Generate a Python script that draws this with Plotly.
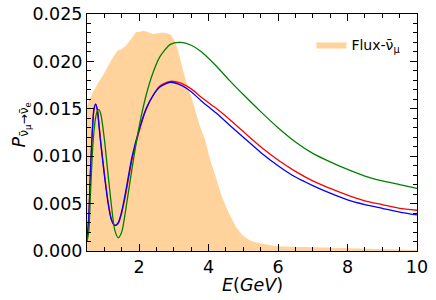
import plotly.graph_objects as go

# Energy grid for oscillation curves (GeV)
E = [0.5, 0.55, 0.6, 0.65, 0.7, 0.75, 0.8, 0.85, 0.9, 1.0, 1.1, 1.2, 1.3, 1.4, 1.5, 1.6,
     1.8, 2.0, 2.2, 2.4, 2.6, 2.9, 3.2, 3.5, 3.8, 4.2, 4.6, 5.0, 5.5, 6.0, 6.5, 7.0,
     7.5, 8.0, 8.5, 9.0, 9.5, 10.0]

P_red = [0.0012, 0.0034, 0.0083, 0.0123, 0.0149, 0.0155, 0.0149, 0.0132, 0.0114, 0.0082,
         0.0054, 0.0034, 0.0027, 0.0029, 0.0040, 0.0057, 0.0097, 0.0126, 0.0149, 0.0164,
         0.0174, 0.0179, 0.0177, 0.0171, 0.0162, 0.0151, 0.0139, 0.0126, 0.0110,
         0.0096, 0.0084, 0.0074, 0.0066, 0.0059, 0.0053, 0.0049, 0.0045, 0.0043]

P_blue = [0.0012, 0.0035, 0.0085, 0.0125, 0.0150, 0.0155, 0.0148, 0.0130, 0.0112, 0.0080,
          0.0052, 0.0033, 0.0027, 0.0030, 0.0042, 0.0060, 0.0100, 0.0128, 0.0150, 0.0164,
          0.0173, 0.0178, 0.0175, 0.0168, 0.0158, 0.0146, 0.0133, 0.0120, 0.0104,
          0.0090, 0.0078, 0.0069, 0.0061, 0.0054, 0.0049, 0.0045, 0.0041, 0.0038]

P_green = [0.0010, 0.0020, 0.0060, 0.0100, 0.0126, 0.0141, 0.0148, 0.0149, 0.0144, 0.0118,
           0.0083, 0.0049, 0.0022, 0.0014, 0.0020, 0.0040, 0.0088, 0.0131, 0.0164, 0.0188,
           0.0205, 0.0218, 0.0220, 0.0217, 0.0210, 0.0196, 0.0180, 0.0165, 0.0147,
           0.0130, 0.0115, 0.0103, 0.0094, 0.0086, 0.0079, 0.0074, 0.0070, 0.0066]

# Flux (arbitrary units, scaled onto the probability axis)
E_flux = [0.5, 0.55, 0.65, 0.8, 1.0, 1.15, 1.38, 1.5, 1.63, 1.8, 1.92, 2.0, 2.1, 2.25, 2.4,
          2.6, 2.75, 2.9, 3.0, 3.1, 3.2, 3.36, 3.55, 3.74, 3.9, 4.05, 4.2, 4.4, 4.6, 4.8,
          5.0, 5.2, 5.5, 6.0, 7.0, 8.0, 9.0, 10.0]
flux = [0.0152, 0.0158, 0.0166, 0.0176, 0.0188, 0.0198, 0.0211, 0.0213, 0.0217, 0.0225,
        0.0231, 0.0231, 0.0232, 0.0231, 0.0229, 0.0230, 0.0230, 0.0228, 0.0223, 0.0214,
        0.0200, 0.0178, 0.0157, 0.0133, 0.0117, 0.0096, 0.0079, 0.0056, 0.0039, 0.0025,
        0.0016, 0.0011, 0.0008, 0.0005, 0.0004, 0.0003, 0.0002, 0.0001]

x_ticks = [2, 4, 6, 8, 10]
y_ticks = [0.000, 0.005, 0.010, 0.015, 0.020, 0.025]

fig = go.Figure()
fig.add_trace(go.Scatter(x=E_flux, y=flux, mode="lines",
                         line=dict(width=0, shape="spline", smoothing=0.6),
                         fill="tozeroy", fillcolor="#FFD39B", name="Flux-ν̄<sub>μ</sub>",
                         showlegend=True))
for ys, col in [(P_red, "red"), (P_blue, "blue"), (P_green, "green")]:
    fig.add_trace(go.Scatter(x=E, y=ys, mode="lines",
                             line=dict(color=col, width=1.3, shape="spline", smoothing=0.7),
                             showlegend=False))

font = "DejaVu Sans"
axis_common = dict(showline=True, linecolor="black", linewidth=1, mirror="allticks",
                   ticks="inside", ticklen=7, tickwidth=1, tickcolor="black",
                   showgrid=False, zeroline=False, automargin=False,
                   tickfont=dict(family=font, size=17.5, color="black"))

fig.update_xaxes(range=[0.5, 10], tickvals=x_ticks, ticktext=[str(v) for v in x_ticks],
                 minor=dict(ticks="inside", dtick=0.5, tick0=0, ticklen=4, tickcolor="black"),
                 **axis_common)
fig.update_yaxes(range=[0, 0.025], tickvals=y_ticks, ticktext=[f"{v:.3f}" for v in y_ticks],
                 minor=dict(ticks="inside", dtick=0.001, tick0=0, ticklen=4, tickcolor="black"),
                 **axis_common)

fig.add_annotation(text="<i>E</i>(<i>GeV</i>)", xref="paper", yref="paper", x=0.5, y=-0.145,
                   xanchor="center", yanchor="middle", showarrow=False,
                   font=dict(family=font, size=17.5, color="black"))
fig.add_annotation(text="<i>P</i><sub>ν̄<sub>μ</sub>→ν̄<sub>e</sub></sub>", xref="paper", yref="paper",
                   x=-0.2, y=0.53, xanchor="center", yanchor="middle", textangle=-90,
                   showarrow=False, font=dict(family=font, size=17.5, color="black"))

fig.update_layout(width=436, height=300, margin=dict(l=87, r=19, t=14, b=49),
                  plot_bgcolor="white", paper_bgcolor="white",
                  legend=dict(x=0.68, y=0.87, xanchor="left", yanchor="middle",
                              bgcolor="rgba(0,0,0,0)", font=dict(family=font, size=14, color="black")))

fig.write_html("out.html", config={"displayModeBar": False},
               post_script="document.body.style.margin='0';")
